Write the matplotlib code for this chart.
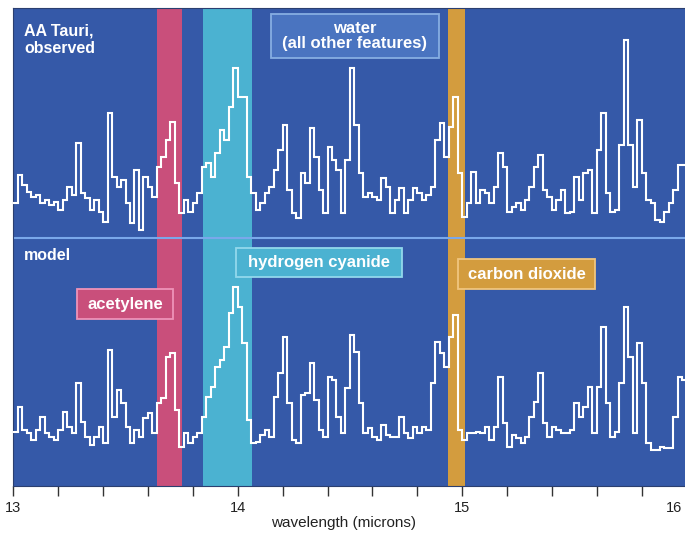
import numpy as np
import matplotlib.pyplot as plt
from matplotlib.patches import Rectangle
from matplotlib.ticker import MultipleLocator
from matplotlib.transforms import ScaledTranslation

plt.rcParams["font.family"] = ["Liberation Sans", "DejaVu Sans"]

# wavelength grid (microns), 0.02 micron bins
WL_START = 13.0
BIN = 0.02

# relative flux, AA Tauri observed spectrum
observed = [
    37, 65, 55, 48, 43, 45, 37, 40, 35, 38, 30, 40, 53, 45, 97, 47, 42, 30, 40, 28,
    18, 127, 63, 53, 60, 37, 17, 70, 10, 63, 53, 43, 73, 83, 100, 118, 57, 27, 40, 28,
    37, 47, 73, 77, 63, 87, 110, 100, 133, 172, 143, 143, 63, 47, 30, 37, 47, 53, 70, 90,
    115, 50, 27, 22, 67, 57, 112, 83, 50, 27, 93, 80, 70, 27, 80, 172, 115, 67, 43, 47,
    43, 40, 62, 53, 27, 40, 52, 27, 40, 52, 47, 40, 45, 53, 100, 117, 83, 113, 143, 67,
    23, 37, 68, 37, 50, 47, 37, 53, 87, 73, 28, 33, 37, 30, 40, 53, 73, 85, 50, 43,
    30, 40, 50, 27, 28, 63, 40, 67, 70, 27, 90, 127, 47, 28, 30, 95, 200, 95, 53, 120,
    67, 40, 37, 20, 18, 28, 37, 50, 75, 75,
]

# relative flux, model spectrum
model = [
    38, 63, 40, 37, 30, 40, 53, 37, 33, 30, 40, 58, 43, 37, 87, 48, 33, 25, 33, 43,
    27, 120, 53, 80, 67, 43, 27, 40, 33, 52, 57, 37, 67, 72, 113, 117, 60, 23, 37, 27,
    33, 37, 53, 73, 83, 103, 110, 123, 157, 183, 163, 127, 50, 27, 28, 35, 40, 33, 73, 97,
    133, 67, 30, 27, 75, 77, 107, 70, 40, 33, 93, 90, 53, 37, 82, 135, 118, 67, 37, 42,
    33, 30, 45, 35, 33, 33, 53, 37, 32, 43, 37, 43, 40, 87, 128, 117, 103, 133, 155, 40,
    30, 37, 37, 38, 37, 43, 30, 43, 93, 47, 23, 35, 32, 27, 33, 53, 68, 97, 47, 33,
    43, 40, 37, 37, 40, 67, 53, 63, 83, 37, 83, 143, 67, 33, 38, 87, 163, 113, 37, 127,
    87, 27, 20, 20, 23, 22, 22, 53, 93, 90,
]

# molecule bands (microns)
band_names = ["acetylene", "hydrogen cyanide", "carbon dioxide"]
band_lo = [13.641, 13.844, 14.936]
band_hi = [13.750, 14.063, 15.012]
band_colors = ["#c94f7b", "#4bb2d1", "#d39c3e"]
band_edges = ["#ee93b8", "#92d8ec", "#f0c57f"]

BG = "#3559a8"
OBS_OFFSET = 246
MODEL_OFFSET = 16

edges = WL_START + BIN * np.arange(len(observed) + 1)

fig = plt.figure(figsize=(6.85, 5.35), dpi=100)
ax = fig.add_axes([13.3 / 685, 1 - 486 / 535, 673.3 / 685, 478.5 / 535])
ax.set_facecolor(BG)

for lo, hi, c in zip(band_lo, band_hi, band_colors):
    ax.axvspan(lo, hi, color=c, lw=0, zorder=1)

ax.axhline(248, color="#7aa8ea", lw=1.5, zorder=2)

ax.stairs(np.array(observed) + OBS_OFFSET, edges, baseline=None,
          color="white", lw=1.5, zorder=3)
ax.stairs(np.array(model) + MODEL_OFFSET, edges, baseline=None,
          color="white", lw=1.5, zorder=3)

# panel labels
ax.text(13.048, 451, "AA Tauri,", color="white", fontsize=11.5,
        fontweight="bold", ha="left", va="baseline", zorder=4)
ax.text(13.048, 433, "observed", color="white", fontsize=11.5,
        fontweight="bold", ha="left", va="baseline", zorder=4)
ax.text(13.048, 226, "model", color="white", fontsize=11.5,
        fontweight="bold", ha="left", va="baseline", zorder=4)


def label_box(x0, x1, y0, y1, text, fc, ec):
    ax.add_patch(Rectangle((x0, y0), x1 - x0, y1 - y0, facecolor=fc,
                           edgecolor=ec, lw=1.3, zorder=4))
    ax.text((x0 + x1) / 2, (y0 + y1) / 2, text, color="white", fontsize=12,
            fontweight="bold", ha="center", va="center", linespacing=1.05,
            zorder=5)


label_box(14.147, 14.898, 427.7, 472, "water\n(all other features)",
          "#4a74c0", "#86aee2")
box_x = [(13.285, 13.710), (13.992, 14.730), (14.982, 15.591)]
box_y = [(166.7, 196.7), (209.3, 237.7), (196.7, 226.7)]
for name, (x0, x1), (y0, y1), c, e in zip(band_names, box_x, box_y,
                                          band_colors, band_edges):
    label_box(x0, x1, y0, y1, name, c, e)

ax.set_xlim(13, 16)
ax.set_ylim(0, 478.5)
ax.set_xticks([13, 14, 15, 16])
ax.xaxis.set_minor_locator(MultipleLocator(0.2))
ax.set_yticks([])
ax.tick_params(axis="x", which="both", direction="out", length=7.5, width=1,
               color="#333333", labelsize=10.5, labelcolor="#222222", pad=3)
# the last label sits on the figure edge, keep it inside
last = ax.get_xticklabels()[-1]
last.set_horizontalalignment("right")
last.set_transform(last.get_transform()
                   + ScaledTranslation(-3 / 72, 0, fig.dpi_scale_trans))
ax.set_xlabel("wavelength (microns)", fontsize=11, color="#222222")
ax.xaxis.set_label_coords(0.49, -0.062)
for s in ax.spines.values():
    s.set_color("#2b3f70")
    s.set_linewidth(0.8)

fig.savefig("out.png", dpi=100)
